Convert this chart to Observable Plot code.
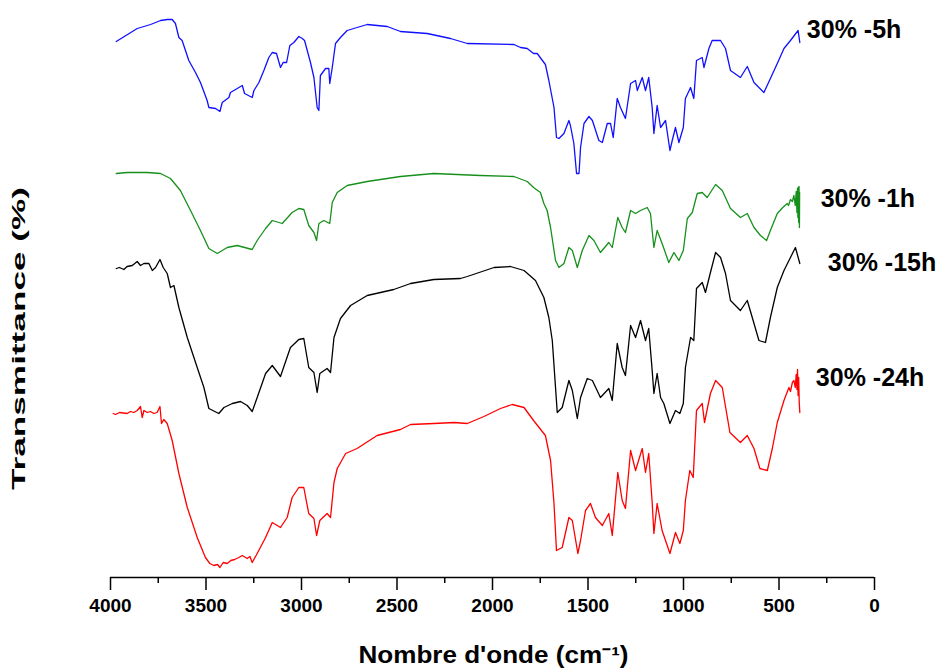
<!DOCTYPE html>
<html>
<head>
<meta charset="utf-8">
<script src="https://cdn.jsdelivr.net/npm/d3@7"></script>
<script src="https://cdn.jsdelivr.net/npm/@observablehq/plot@0.6"></script>
<style>
  html, body { margin: 0; padding: 0; background: #fff; }
  #chart svg { display: block; }
</style>
</head>
<body>
<div id="chart"></div>
<script>
// Wavenumbers (cm-1) and transmittance (arbitrary, offset) for each sample
const wn5h = [3970,3860,3790,3738,3703,3677,3660,3642,3625,3590,3555,3529,3494,3485,3450,3427,3415,3380,3372,3345,3310,3298,3258,3249,3223,3197,3171,3153,3131,3110,3096,3078,3061,3040,3014,2996,2984,2953,2935,2918,2909,2901,2874,2857,2852,2839,2822,2796,2761,2709,2656,2551,2482,2342,2220,2132,1888,1853,1818,1785,1766,1723,1705,1678,1665,1652,1626,1600,1592,1574,1560,1547,1539,1521,1495,1477,1443,1425,1399,1382,1368,1347,1330,1304,1277,1251,1242,1216,1199,1182,1164,1155,1138,1120,1094,1071,1059,1042,1024,1001,990,963,946,932,902,893,867,850,806,780,754,702,666,631,579,545,509,474,440,400,391];
const t5h = [536,549,553,557,558,558,554,540,537,517,505,495,477,470,469,466,475,480,485,488,492,484,480,487,495,507,520,525,524,510,515,515,532,535,541,539,537,515,500,470,467,502,509,509,494,510,534,540,547,550,553,551,546,544,539,534,533,530,529,524,524,513,497,470,440,439,444,457,452,434,404,404,430,454,461,457,437,435,454,454,440,479,470,459,494,497,487,500,487,500,470,444,472,450,457,427,437,450,435,450,479,490,479,517,520,510,529,537,537,529,507,500,511,495,485,499,514,529,537,547,535];

const wn1h = [3970,3913,3808,3738,3686,3634,3581,3529,3485,3441,3389,3337,3258,3232,3188,3153,3101,3049,3014,2988,2962,2935,2921,2909,2883,2852,2839,2813,2761,2656,2482,2307,2063,1888,1818,1785,1749,1731,1714,1696,1670,1652,1626,1600,1582,1556,1530,1495,1469,1435,1391,1373,1344,1321,1304,1277,1251,1225,1190,1173,1155,1138,1112,1077,1050,1024,1001,980,954,928,902,876,832,797,754,702,666,631,597,565,545,509,480,457,450,440,430,422,415,410,406,403,401,399,397,395,393,392];
const t1h = [404,405,405,404,399,387,367,347,329,324,330,332,328,337,349,357,354,365,369,368,352,345,337,354,357,354,375,385,392,396,401,404,402,401,396,390,385,374,367,350,317,310,314,330,327,310,327,342,337,325,335,330,360,350,345,367,364,367,370,364,330,347,334,315,325,317,327,359,365,384,385,380,393,387,369,360,364,350,342,337,347,364,370,374,372,378,376,382,372,386,365,389,360,390,355,391,350,385];

const wn15h = [3970,3953,3930,3913,3886,3860,3843,3825,3799,3781,3764,3741,3724,3703,3686,3668,3642,3598,3546,3511,3485,3433,3406,3362,3319,3284,3258,3232,3188,3153,3110,3058,3014,2988,2962,2935,2918,2904,2866,2848,2830,2796,2743,2656,2517,2429,2307,2168,2132,1992,1906,1835,1775,1731,1705,1687,1670,1661,1635,1600,1582,1556,1539,1504,1477,1435,1391,1373,1347,1321,1304,1277,1251,1225,1199,1182,1164,1155,1138,1120,1103,1071,1042,1019,1001,990,963,946,932,902,885,859,832,806,780,754,702,666,640,605,571,545,509,474,440,414,391];
const t15h = [309,310,308,311,312,316,312,314,314,307,310,318,310,304,290,292,270,240,210,190,169,164,170,174,176,172,166,180,204,212,201,230,238,239,210,205,185,204,209,205,240,259,272,282,288,294,298,299,301,310,311,307,297,280,260,237,190,165,170,197,187,159,180,199,197,180,189,177,234,210,202,252,240,257,237,249,207,184,204,180,174,154,167,164,174,210,240,237,289,295,285,305,325,320,304,277,267,277,260,237,235,260,290,307,320,330,314];

const wn24h = [3986,3974,3953,3913,3895,3878,3860,3843,3834,3825,3808,3791,3773,3756,3741,3733,3721,3703,3677,3642,3598,3546,3503,3480,3459,3440,3427,3410,3389,3370,3350,3328,3310,3284,3270,3258,3232,3188,3153,3110,3075,3049,3014,2988,2962,2935,2921,2904,2866,2848,2830,2813,2769,2709,2604,2482,2429,2307,2202,2132,2045,1958,1897,1835,1785,1723,1696,1678,1665,1635,1600,1582,1553,1539,1513,1487,1461,1425,1391,1373,1344,1321,1304,1277,1251,1216,1199,1182,1164,1155,1138,1112,1071,1042,1019,1001,990,967,949,932,902,890,859,832,797,757,702,666,631,600,561,535,509,474,460,448,440,430,422,415,410,406,403,400,397,394,391];
const t24h = [164,163,165,164,166,165,167,171,160,167,165,166,164,165,171,154,158,154,137,104,70,40,20,14,12,13,10,15,14,17,18,20,22,19,21,15,24,40,55,50,60,80,90,90,64,59,42,57,64,60,95,109,124,129,142,148,153,154,155,154,161,169,173,170,157,142,117,74,27,30,60,57,24,37,67,74,60,52,64,42,105,77,69,127,107,129,105,124,75,44,74,47,24,45,34,47,77,107,100,167,174,155,184,197,190,145,135,142,129,109,107,129,155,177,184,190,186,195,197,190,203,188,208,182,200,175,165];

const seriesNames = ["30% -5h", "30% -1h", "30% -15h", "30% -24h"];
const majorTicks = [4000, 3500, 3000, 2500, 2000, 1500, 1000, 500, 0];
const xTitle = "Nombre d'onde (cm\u207B\u00B9)";
const yTitle = "Transmittance (%)";

// ---- build ----
const colors = ["#1010ff", "#16901b", "#000000", "#ff0000"];
const labelOffsets = [[7, -13], [21, 6], [28, -1], [16, -35]];
const wns = [wn5h, wn1h, wn15h, wn24h];
const ts = [t5h, t1h, t15h, t24h];

const series = seriesNames.map((name, i) => ({
  name,
  color: colors[i],
  data: wns[i].map((w, j) => ({wn: w, t: ts[i][j]}))
}));

const minorTicks = d3.range(250, 4000, 500);

const marks = [];
for (const s of series) {
  marks.push(Plot.line(s.data, {x: "wn", y: "t", stroke: s.color, strokeWidth: 1.3, curve: "linear"}));
}
series.forEach((s, i) => {
  const last = s.data[s.data.length - 1];
  marks.push(Plot.text([last], {
    x: "wn", y: "t", text: () => s.name,
    textAnchor: "start", lineAnchor: "middle",
    dx: labelOffsets[i][0], dy: labelOffsets[i][1],
    fontSize: 25, fontWeight: "bold", fill: "#000"
  }));
});
marks.push(Plot.axisX({ticks: minorTicks, tickSize: 6, tickFormat: () => "", label: null, strokeWidth: 1.5}));
marks.push(Plot.axisX({ticks: majorTicks, tickSize: 13, tickPadding: 8, label: null, fontSize: 19, fontWeight: "bold", tickFormat: d => String(d), strokeWidth: 1.5}));
marks.push(Plot.ruleY([0], {stroke: "#000", strokeWidth: 1.6}));
marks.push(Plot.text([xTitle], {frameAnchor: "bottom", dx: -134, dy: 78, textAnchor: "start", lineAnchor: "middle", fontSize: 23, fontWeight: "bold", fill: "#000"}));
marks.push(Plot.text([yTitle], {frameAnchor: "left", rotate: -90, dx: -91, dy: 196, textAnchor: "start", lineAnchor: "middle", fontSize: 18, fontWeight: "bold", fill: "#000"}));

const chart = Plot.plot({
  width: 949,
  height: 669,
  marginLeft: 110,
  marginRight: 75,
  marginTop: 10,
  marginBottom: 92,
  style: {fontFamily: "'Liberation Sans', Arial, sans-serif", background: "#fff", color: "#000", overflow: "visible"},
  x: {domain: [4000, 0]},
  y: {domain: [0, 567], axis: null},
  marks
});

// stretch the axis titles to the reference widths
d3.select(chart).selectAll("text").each(function() {
  const txt = this.textContent;
  if (txt === xTitle) { this.setAttribute("textLength", 270); this.setAttribute("lengthAdjust", "spacingAndGlyphs"); }
  if (txt === yTitle) { this.setAttribute("textLength", 303); this.setAttribute("lengthAdjust", "spacingAndGlyphs"); }
});

document.getElementById("chart").appendChild(chart);
</script>
</body>
</html>
